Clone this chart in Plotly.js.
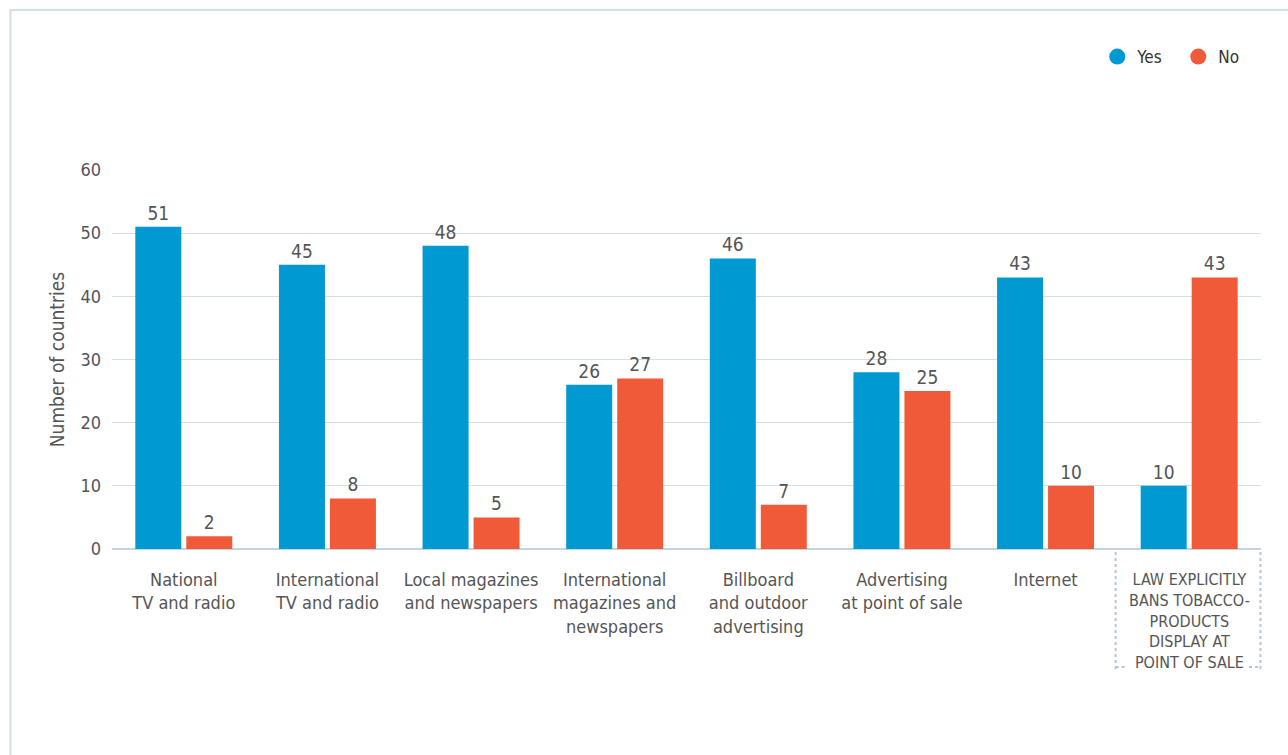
<!DOCTYPE html>
<html><head><meta charset="utf-8">
<script src="https://cdn.plot.ly/plotly-3.0.1.min.js"></script>
<style>html,body{margin:0;padding:0;background:#fff}#chart{width:1288px;height:755px}</style>
</head><body><div id="chart"></div>
<script>
const categories = [
  "National<br>TV and radio",
  "International<br>TV and radio",
  "Local magazines<br>and newspapers",
  "International<br>magazines and<br>newspapers",
  "Billboard<br>and outdoor<br>advertising",
  "Advertising<br>at point of sale",
  "Internet",
  "LAW EXPLICITLY<br>BANS TOBACCO-<br>PRODUCTS<br>DISPLAY AT<br>POINT OF SALE"
];
const yesValues = [51, 45, 48, 26, 46, 28, 43, 10];
const noValues  = [2, 8, 5, 27, 7, 25, 10, 43];
const seriesNames = ["Yes", "No"];
const yTicks = [0, 10, 20, 30, 40, 50, 60];

const FONT = "'Liberation Sans Narrow', 'DejaVu Sans Condensed', 'Roboto', sans-serif";
const BLUE = "#0099D1", RED = "#F15A38", TXT = "#555555", GRID = "#D3DFE8";
const lastIdx = categories.length - 1;

const traces = [
  {type:"bar", x:categories, y:yesValues, name:seriesNames[0], marker:{color:BLUE},
   text:yesValues.map(String), textposition:"outside", cliponaxis:false,
   textfont:{family:FONT,size:19,color:TXT}, showlegend:false, hoverinfo:"y"},
  {type:"bar", x:categories, y:noValues, name:seriesNames[1], marker:{color:RED},
   text:noValues.map(String), textposition:"outside", cliponaxis:false,
   textfont:{family:FONT,size:19,color:TXT}, showlegend:false, hoverinfo:"y"},
  {type:"scatter", mode:"markers", x:[null], y:[null], name:seriesNames[0], marker:{color:BLUE,size:18,symbol:"circle"}},
  {type:"scatter", mode:"markers", x:[null], y:[null], name:seriesNames[1], marker:{color:RED,size:18,symbol:"circle"}}
];

const layout = {
  width:1288, height:755,
  margin:{l:112, r:27, t:170, b:206, autoexpand:false},
  paper_bgcolor:"#fff", plot_bgcolor:"#fff",
  font:{family:FONT, color:TXT, size:18},
  barmode:"group", bargap:0.29, bargroupgap:0.098,
  showlegend:true,
  legend:{orientation:"h", x:0.8575, xanchor:"left", y:1.298, yanchor:"middle",
          font:{family:FONT,size:17,color:"#333"}, itemwidth:30, entrywidth:36, entrywidthmode:"pixels",
          traceorder:"normal"},
  xaxis:{type:"category", showgrid:false, zeroline:false, showline:false, ticks:"",
         tickvals:categories, ticktext:categories.map((c,i)=> i===lastIdx ? "" : c),
         tickfont:{family:FONT,size:18,color:TXT}, ticklabelstandoff:18, fixedrange:true},
  yaxis:{range:[0,60], tickvals:yTicks, showgrid:true, gridcolor:GRID, gridwidth:1,
         zeroline:true, zerolinecolor:"#C5D3DE", zerolinewidth:1.5,
         tickfont:{family:FONT,size:18,color:TXT}, ticklabelstandoff:10,
         title:{text:"Number of countries", font:{family:FONT,size:19,color:TXT}, standoff:10}},
  annotations:[
    {x:categories[lastIdx], xref:"x", yref:"paper", y:-0.05, yanchor:"top", showarrow:false,
     text:categories[lastIdx], align:"center", font:{family:FONT,size:16,color:TXT}}
  ],
  shapes:[
    {type:"rect", xref:"paper", yref:"paper", x0:-0.0884, x1:1.1, y0:-0.6, y1:1.422,
     line:{color:"#D3DFE8", width:2}, fillcolor:"rgba(0,0,0,0)", layer:"below"},
    {type:"line", xref:"paper", yref:"paper", x0:0.8735, x1:0.8735, y0:-0.008, y1:-0.32,
     line:{color:"#B5C6D3", width:2, dash:"dot"}},
    {type:"line", xref:"paper", yref:"paper", x0:0.9995, x1:0.9995, y0:-0.008, y1:-0.32,
     line:{color:"#B5C6D3", width:2, dash:"dot"}},
    {type:"line", xref:"paper", yref:"paper", x0:0.8735, x1:0.882, y0:-0.3115, y1:-0.3115,
     line:{color:"#B5C6D3", width:2, dash:"dot"}},
    {type:"line", xref:"paper", yref:"paper", x0:0.9895, x1:0.9995, y0:-0.3115, y1:-0.3115,
     line:{color:"#B5C6D3", width:2, dash:"dot"}}
  ]
};
Plotly.newPlot("chart", traces, layout, {displayModeBar:false, staticPlot:true});
</script></body></html>
